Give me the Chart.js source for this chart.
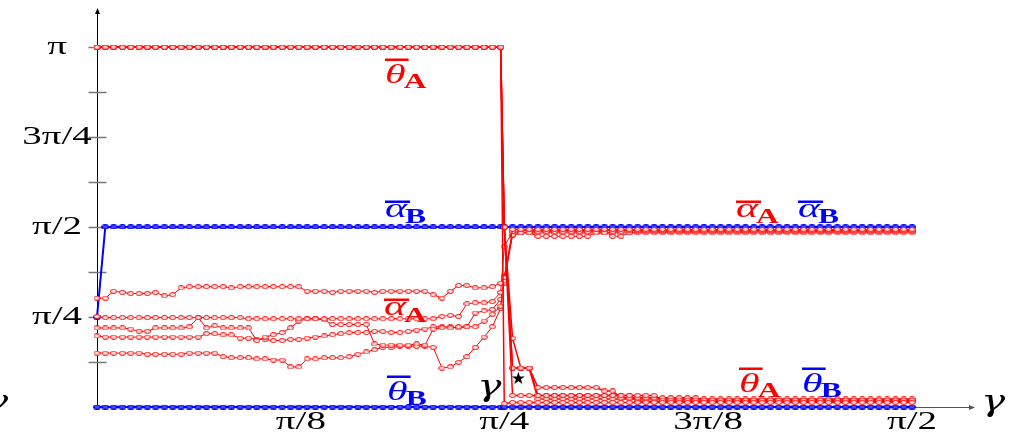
<!DOCTYPE html>
<html>
<head>
<meta charset="utf-8">
<script src="https://cdn.jsdelivr.net/npm/chart.js@4.4.1/dist/chart.umd.min.js"></script>
<style>
html, body { margin: 0; padding: 0; background: #fff; }
#wrap { width: 1020px; height: 436px; }
</style>
</head>
<body>
<div id="wrap"><canvas id="myChart" width="1020" height="436"></canvas></div>
<script>
// sample points of gamma, 0 .. pi/2 (the middle one is exactly pi/4)
var gamma = [
  0.000,0.016,0.032,0.049,0.065,0.081,0.097,0.113,0.130,0.146,
  0.162,0.178,0.195,0.211,0.227,0.243,0.259,0.276,0.292,0.308,
  0.324,0.340,0.357,0.373,0.389,0.405,0.421,0.438,0.454,0.470,
  0.486,0.503,0.519,0.535,0.551,0.567,0.584,0.600,0.616,0.632,
  0.648,0.665,0.681,0.697,0.713,0.729,0.746,0.762,0.778,0.785,
  0.801,0.817,0.833,0.850,0.866,0.882,0.898,0.914,0.930,0.946,
  0.962,0.978,0.994,1.010,1.026,1.042,1.058,1.074,1.090,1.106,
  1.122,1.138,1.154,1.170,1.186,1.202,1.218,1.234,1.250,1.266,
  1.282,1.298,1.314,1.330,1.346,1.362,1.378,1.394,1.410,1.427,
  1.443,1.459,1.475,1.491,1.507,1.523,1.539,1.555,1.571
];

// alpha_A, five runs
var alphaA1 = [
  0.95,0.95,1.01,1.00,0.99,0.99,0.99,1.00,0.97,0.98,
  1.04,1.05,1.05,1.05,1.05,1.05,1.04,1.05,1.05,1.05,
  1.05,1.05,1.05,1.05,1.05,1.01,1.01,1.01,1.00,1.01,
  1.01,1.01,1.01,1.00,1.01,1.01,1.01,1.01,1.01,1.01,
  0.98,0.95,1.01,1.06,1.06,1.04,1.04,1.05,1.08,1.13,
  1.55,1.55,1.55,1.55,1.55,1.55,1.55,1.55,1.55,1.55,
  1.55,1.55,1.55,1.55,1.55,1.55,1.55,1.55,1.55,1.55,
  1.55,1.55,1.55,1.55,1.55,1.55,1.55,1.55,1.55,1.55,
  1.55,1.55,1.55,1.55,1.55,1.55,1.55,1.55,1.55,1.55,
  1.55,1.55,1.55,1.55,1.55,1.55,1.55,1.55,1.55
];
var alphaA2 = [
  0.79,0.78,0.78,0.78,0.78,0.78,0.78,0.78,0.78,0.78,
  0.78,0.78,0.78,0.78,0.78,0.78,0.78,0.78,0.77,0.77,
  0.77,0.77,0.77,0.77,0.77,0.77,0.77,0.77,0.77,0.77,
  0.77,0.77,0.77,0.77,0.77,0.77,0.77,0.77,0.77,0.77,
  0.77,0.79,0.80,0.79,0.90,0.91,0.91,0.92,1.00,1.40,
  1.53,1.52,1.52,1.49,1.49,1.49,1.49,1.49,1.49,1.49,
  1.52,1.52,1.53,1.53,1.54,1.54,1.54,1.54,1.54,1.54,
  1.54,1.54,1.54,1.54,1.54,1.54,1.54,1.54,1.54,1.54,
  1.54,1.54,1.54,1.54,1.54,1.54,1.54,1.54,1.54,1.54,
  1.54,1.54,1.54,1.54,1.54,1.54,1.54,1.54,1.54
];
var alphaA3 = [
  0.69,0.69,0.69,0.69,0.68,0.66,0.66,0.69,0.69,0.69,
  0.69,0.70,0.78,0.69,0.71,0.69,0.69,0.69,0.69,0.58,
  0.61,0.63,0.65,0.69,0.75,0.77,0.77,0.76,0.72,0.72,
  0.72,0.72,0.72,0.55,0.54,0.54,0.54,0.54,0.55,0.54,
  0.68,0.69,0.69,0.70,0.70,0.70,0.75,0.81,0.88,1.10,
  1.50,1.52,1.53,1.53,1.53,1.53,1.53,1.53,1.53,1.53,
  1.53,1.53,1.49,1.49,1.52,1.53,1.53,1.53,1.53,1.53,
  1.53,1.53,1.53,1.53,1.53,1.53,1.53,1.53,1.53,1.53,
  1.53,1.53,1.53,1.53,1.53,1.53,1.53,1.53,1.53,1.53,
  1.53,1.53,1.53,1.53,1.53,1.53,1.53,1.53,1.53
];
var alphaA4 = [
  0.62,0.61,0.61,0.61,0.61,0.61,0.61,0.61,0.61,0.61,
  0.61,0.61,0.61,0.64,0.64,0.63,0.63,0.60,0.60,0.59,
  0.59,0.58,0.58,0.59,0.59,0.60,0.61,0.62,0.63,0.64,
  0.65,0.65,0.65,0.66,0.66,0.65,0.65,0.66,0.67,0.68,
  0.70,0.70,0.70,0.69,0.70,0.82,0.84,0.85,0.94,1.08,
  1.53,1.54,1.54,1.54,1.54,1.54,1.54,1.54,1.54,1.54,
  1.54,1.54,1.54,1.54,1.54,1.54,1.54,1.54,1.54,1.54,
  1.54,1.54,1.54,1.54,1.54,1.54,1.54,1.54,1.54,1.54,
  1.54,1.54,1.54,1.54,1.54,1.54,1.54,1.54,1.54,1.54,
  1.54,1.54,1.54,1.54,1.54,1.54,1.54,1.54,1.54
];
var alphaA5 = [
  0.47,0.47,0.47,0.47,0.47,0.47,0.46,0.46,0.46,0.46,
  0.46,0.47,0.47,0.47,0.47,0.44,0.43,0.43,0.43,0.42,
  0.42,0.41,0.41,0.35,0.35,0.42,0.42,0.43,0.43,0.43,
  0.44,0.46,0.48,0.50,0.52,0.52,0.53,0.53,0.53,0.53,
  0.52,0.34,0.35,0.39,0.44,0.52,0.61,0.70,0.86,1.14,
  1.50,1.52,1.52,1.52,1.52,1.52,1.52,1.52,1.52,1.52,
  1.52,1.52,1.52,1.52,1.52,1.52,1.52,1.52,1.52,1.52,
  1.52,1.52,1.52,1.52,1.52,1.52,1.52,1.52,1.52,1.52,
  1.52,1.52,1.52,1.52,1.52,1.52,1.52,1.52,1.52,1.52,
  1.52,1.52,1.52,1.52,1.52,1.52,1.52,1.52,1.52
];

// theta_A, same five runs
var thetaA1 = [
  3.14,3.14,3.14,3.14,3.14,3.14,3.14,3.14,3.14,3.14,
  3.14,3.14,3.14,3.14,3.14,3.14,3.14,3.14,3.14,3.14,
  3.14,3.14,3.14,3.14,3.14,3.14,3.14,3.14,3.14,3.14,
  3.14,3.14,3.14,3.14,3.14,3.14,3.14,3.14,3.14,3.14,
  3.14,3.14,3.14,3.14,3.14,3.14,3.14,3.14,3.14,0.03,
  0.04,0.04,0.04,0.04,0.04,0.04,0.04,0.04,0.04,0.04,
  0.04,0.04,0.04,0.04,0.04,0.04,0.04,0.04,0.04,0.04,
  0.04,0.04,0.04,0.04,0.04,0.04,0.04,0.04,0.04,0.04,
  0.04,0.04,0.04,0.04,0.04,0.04,0.04,0.04,0.04,0.04,
  0.04,0.04,0.04,0.04,0.04,0.04,0.04,0.04,0.04
];
var thetaA2 = [
  3.14,3.14,3.14,3.14,3.14,3.14,3.14,3.14,3.14,3.14,
  3.14,3.14,3.14,3.14,3.14,3.14,3.14,3.14,3.14,3.14,
  3.14,3.14,3.14,3.14,3.14,3.14,3.14,3.14,3.14,3.14,
  3.14,3.14,3.14,3.14,3.14,3.14,3.14,3.14,3.14,3.14,
  3.14,3.14,3.14,3.14,3.14,3.14,3.14,3.14,3.14,1.57,
  0.10,0.10,0.10,0.10,0.10,0.10,0.10,0.10,0.10,0.10,
  0.10,0.10,0.10,0.10,0.10,0.10,0.10,0.10,0.06,0.06,
  0.06,0.06,0.06,0.06,0.06,0.06,0.06,0.06,0.06,0.06,
  0.06,0.06,0.06,0.06,0.06,0.06,0.06,0.06,0.06,0.06,
  0.06,0.06,0.06,0.06,0.06,0.06,0.06,0.06,0.06
];
var thetaA3 = [
  3.14,3.14,3.14,3.14,3.14,3.14,3.14,3.14,3.14,3.14,
  3.14,3.14,3.14,3.14,3.14,3.14,3.14,3.14,3.14,3.14,
  3.14,3.14,3.14,3.14,3.14,3.14,3.14,3.14,3.14,3.14,
  3.14,3.14,3.14,3.14,3.14,3.14,3.14,3.14,3.14,3.14,
  3.14,3.14,3.14,3.14,3.14,3.14,3.14,3.14,3.14,1.57,
  0.34,0.34,0.34,0.17,0.17,0.17,0.17,0.17,0.17,0.17,
  0.17,0.14,0.14,0.08,0.08,0.08,0.08,0.08,0.08,0.08,
  0.08,0.08,0.08,0.06,0.06,0.06,0.06,0.06,0.06,0.06,
  0.06,0.06,0.06,0.06,0.06,0.06,0.06,0.06,0.06,0.06,
  0.06,0.06,0.06,0.06,0.06,0.06,0.06,0.06,0.06
];
var thetaA4 = [
  3.14,3.14,3.14,3.14,3.14,3.14,3.14,3.14,3.14,3.14,
  3.14,3.14,3.14,3.14,3.14,3.14,3.14,3.14,3.14,3.14,
  3.14,3.14,3.14,3.14,3.14,3.14,3.14,3.14,3.14,3.14,
  3.14,3.14,3.14,3.14,3.14,3.14,3.14,3.14,3.14,3.14,
  3.14,3.14,3.14,3.14,3.14,3.14,3.14,3.14,3.14,1.57,
  0.60,0.34,0.34,0.10,0.10,0.10,0.10,0.10,0.10,0.10,
  0.10,0.10,0.10,0.10,0.10,0.05,0.05,0.05,0.05,0.05,
  0.05,0.05,0.05,0.05,0.05,0.05,0.05,0.05,0.05,0.05,
  0.05,0.05,0.05,0.05,0.05,0.05,0.05,0.05,0.05,0.05,
  0.05,0.05,0.05,0.05,0.05,0.05,0.05,0.05,0.05
];
var thetaA5 = [
  3.14,3.14,3.14,3.14,3.14,3.14,3.14,3.14,3.14,3.14,
  3.14,3.14,3.14,3.14,3.14,3.14,3.14,3.14,3.14,3.14,
  3.14,3.14,3.14,3.14,3.14,3.14,3.14,3.14,3.14,3.14,
  3.14,3.14,3.14,3.14,3.14,3.14,3.14,3.14,3.14,3.14,
  3.14,3.14,3.14,3.14,3.14,3.14,3.14,3.14,3.14,1.57,
  0.34,0.34,0.34,0.07,0.07,0.07,0.07,0.07,0.07,0.07,
  0.07,0.07,0.07,0.07,0.07,0.07,0.07,0.07,0.07,0.07,
  0.07,0.07,0.07,0.07,0.07,0.07,0.07,0.07,0.07,0.07,
  0.07,0.07,0.07,0.07,0.07,0.07,0.07,0.07,0.07,0.07,
  0.07,0.07,0.07,0.07,0.07,0.07,0.07,0.07,0.07
];

// alpha_B and theta_B
var alphaB = [
  0.785,1.571,1.571,1.571,1.571,1.571,1.571,1.571,1.571,1.571,
  1.571,1.571,1.571,1.571,1.571,1.571,1.571,1.571,1.571,1.571,
  1.571,1.571,1.571,1.571,1.571,1.571,1.571,1.571,1.571,1.571,
  1.571,1.571,1.571,1.571,1.571,1.571,1.571,1.571,1.571,1.571,
  1.571,1.571,1.571,1.571,1.571,1.571,1.571,1.571,1.571,1.571,
  1.571,1.571,1.571,1.571,1.571,1.571,1.571,1.571,1.571,1.571,
  1.571,1.571,1.571,1.571,1.571,1.571,1.571,1.571,1.571,1.571,
  1.571,1.571,1.571,1.571,1.571,1.571,1.571,1.571,1.571,1.571,
  1.571,1.571,1.571,1.571,1.571,1.571,1.571,1.571,1.571,1.571,
  1.571,1.571,1.571,1.571,1.571,1.571,1.571,1.571,1.571
];
var thetaB = [
  0,0,0,0,0,0,0,0,0,0, 0,0,0,0,0,0,0,0,0,0,
  0,0,0,0,0,0,0,0,0,0, 0,0,0,0,0,0,0,0,0,0,
  0,0,0,0,0,0,0,0,0,0, 0,0,0,0,0,0,0,0,0,0,
  0,0,0,0,0,0,0,0,0,0, 0,0,0,0,0,0,0,0,0,0,
  0,0,0,0,0,0,0,0,0,0, 0,0,0,0,0,0,0,0,0
];

// axis ticks
var yMarks = [0.393, 0.785, 1.178, 1.571, 1.963, 2.356, 2.749, 3.142];
var yTickValues = [0.785, 1.571, 2.356, 3.142];
var yTickLabels = ['π/4', 'π/2', '3π/4', 'π'];
var xTickValues = [0.393, 0.785, 1.178, 1.571];
var xTickLabels = ['π/8', 'π/4', '3π/8', 'π/2'];

// curve names: symbol, subscript, colour, left, baseline, subscript baseline
var curveNames = [
  ['θ', 'A', '#ff0000', 385, 83, 88],
  ['α', 'B', '#0000ff', 385, 217, 223],
  ['α', 'A', '#ff0000', 384, 315, 322],
  ['θ', 'B', '#0000ff', 387, 400, 405],
  ['α', 'A', '#ff0000', 736, 217, 223],
  ['α', 'B', '#0000ff', 798, 217, 223],
  ['θ', 'A', '#ff0000', 739, 392, 397],
  ['θ', 'B', '#0000ff', 802, 392, 397]
];

var SX = 1.5; // text comes out wider than tall
var SERIF = '"Liberation Serif"';

function wideText(ctx, str, x, y, font, color, align, baseline, sx) {
  ctx.save();
  ctx.font = font;
  ctx.fillStyle = color;
  ctx.textAlign = align || 'center';
  ctx.textBaseline = baseline || 'middle';
  ctx.translate(x, y);
  ctx.scale(sx || SX, 1);
  ctx.fillText(str, 0, 0);
  ctx.restore();
}

// little flattened circles used as point markers
function ellipseMark(stroke, fill, w, h, lw) {
  var c = document.createElement('canvas');
  c.width = w; c.height = h;
  var g = c.getContext('2d');
  g.beginPath();
  g.ellipse(w / 2, h / 2, w / 2 - lw / 2, h / 2 - lw / 2, 0, 0, Math.PI * 2);
  g.fillStyle = fill;
  g.fill();
  g.lineWidth = lw;
  g.strokeStyle = stroke;
  g.stroke();
  return c;
}
var redMark = ellipseMark('#ff0000', 'rgba(255,240,240,0.9)', 7, 5, 1);
var blueMark = ellipseMark('#0000ff', '#6b6bff', 8, 5, 1.5);

function series(values, color, mark, width) {
  return {
    data: gamma.map(function (g, i) { return { x: g, y: values[i] }; }),
    borderColor: color,
    borderWidth: width,
    pointStyle: mark,
    pointRadius: 3,
    pointHoverRadius: 3,
    tension: 0,
    fill: false,
    clip: false
  };
}

var mathAxes = {
  id: 'mathAxes',
  beforeDatasetsDraw: function (chart) {
    var ctx = chart.ctx, xs = chart.scales.x, ys = chart.scales.y;
    var x0 = Math.round(xs.getPixelForValue(0)) + 0.5;
    var y0 = Math.round(ys.getPixelForValue(0)) + 0.5;
    var top = chart.chartArea.top, right = chart.chartArea.right;
    ctx.save();
    // y axis with arrow
    ctx.strokeStyle = '#000';
    ctx.fillStyle = '#000';
    ctx.lineWidth = 1;
    ctx.beginPath(); ctx.moveTo(x0, y0); ctx.lineTo(x0, top + 3); ctx.stroke();
    ctx.beginPath(); ctx.moveTo(x0, top); ctx.lineTo(x0 - 2.5, top + 6); ctx.lineTo(x0 + 2.5, top + 6); ctx.fill();
    // x axis with arrow
    ctx.strokeStyle = '#555';
    ctx.fillStyle = '#555';
    ctx.beginPath(); ctx.moveTo(x0, y0); ctx.lineTo(right - 3, y0); ctx.stroke();
    ctx.beginPath(); ctx.moveTo(right, y0); ctx.lineTo(right - 6, y0 - 2.5); ctx.lineTo(right - 6, y0 + 2.5); ctx.fill();
    // tick marks across the y axis
    ctx.strokeStyle = '#777';
    ctx.lineWidth = 1.5;
    yMarks.forEach(function (v) {
      var y = Math.round(ys.getPixelForValue(v)) + 0.5;
      ctx.beginPath(); ctx.moveTo(x0 - 9, y); ctx.lineTo(x0 + 9, y); ctx.stroke();
    });
    ctx.restore();
  },
  afterDatasetsDraw: function (chart) {
    var ctx = chart.ctx, xs = chart.scales.x, ys = chart.scales.y;
    var y0 = ys.getPixelForValue(0);
    var tickFont = '26px ' + SERIF;
    yTickValues.forEach(function (v, i) {
      wideText(ctx, yTickLabels[i], 57, ys.getPixelForValue(v), tickFont, '#000');
    });
    xTickValues.forEach(function (v, i) {
      wideText(ctx, xTickLabels[i], xs.getPixelForValue(v), y0 + 15, tickFont, '#000');
    });

    // gamma on the axes and the critical gamma*
    var gFont = 'italic 30px "DejaVu Serif"';
    wideText(ctx, 'γ', chart.chartArea.right + 18, y0 + 4, gFont, '#000', 'center', 'alphabetic', 1.35);
    wideText(ctx, 'γ', -4, y0 + 4, gFont, '#000', 'center', 'alphabetic', 1.35);
    wideText(ctx, 'γ', xs.getPixelForValue(0.785) - 15, y0 - 11, gFont, '#000', 'center', 'alphabetic', 1.35);
    ctx.save();
    ctx.font = '17px "DejaVu Sans"';
    ctx.fillStyle = '#000';
    ctx.textAlign = 'center';
    ctx.textBaseline = 'middle';
    ctx.fillText('★', xs.getPixelForValue(0.785) + 14, y0 - 27);
    ctx.restore();

    // curve names with overbar and bold subscript
    curveNames.forEach(function (n) {
      var sym = n[0], sub = n[1], color = n[2], x = n[3], base = n[4], subBase = n[5];
      var symFont = 'italic 28px ' + SERIF;
      ctx.save();
      ctx.font = symFont;
      var w = ctx.measureText(sym).width * SX;
      ctx.restore();
      wideText(ctx, sym, x, base, symFont, color, 'left', 'alphabetic');
      var barY = sym === 'θ' ? base - 23 : base - 15;
      ctx.save();
      ctx.fillStyle = color;
      ctx.fillRect(x, barY - 1.5, w + 3, 2.5);
      ctx.restore();
      wideText(ctx, sub, x + w - 2, subBase, 'bold 21px ' + SERIF, color, 'left', 'alphabetic');
    });
  }
};

var RED = '#ff0000', BLUE = '#0000ff';
var ctx = document.getElementById('myChart').getContext('2d');
var chart = new Chart(ctx, {
  type: 'line',
  data: {
    datasets: [
      series(thetaA1, RED, redMark, 1.5),
      series(thetaA2, RED, redMark, 1.5),
      series(thetaA3, RED, redMark, 1.5),
      series(thetaA4, RED, redMark, 1.5),
      series(thetaA5, RED, redMark, 1.5),
      series(alphaA1, RED, redMark, 1),
      series(alphaA2, RED, redMark, 1),
      series(alphaA3, RED, redMark, 1),
      series(alphaA4, RED, redMark, 1),
      series(alphaA5, RED, redMark, 1),
      series(alphaB, BLUE, blueMark, 2),
      series(thetaB, BLUE, blueMark, 2)
    ]
  },
  options: {
    responsive: false,
    animation: false,
    events: [],
    layout: { padding: { left: 97, right: 45, top: 8, bottom: 29 } },
    plugins: { legend: { display: false }, tooltip: { enabled: false } },
    scales: {
      x: { type: 'linear', min: 0, max: 1.6924, display: false },
      y: { type: 'linear', min: 0, max: 3.4818, display: false }
    }
  },
  plugins: [mathAxes]
});
</script>
</body>
</html>
